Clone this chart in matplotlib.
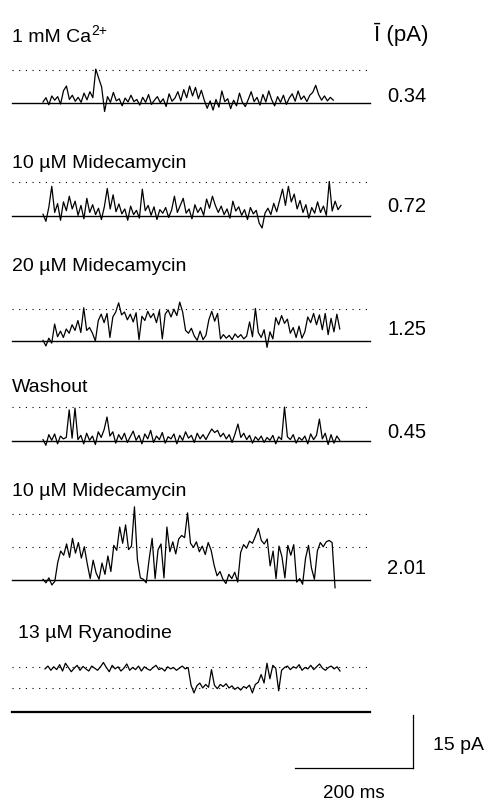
import numpy as np
import matplotlib
matplotlib.use('Agg')
import matplotlib.pyplot as plt

plt.rcParams['font.family'] = ['Liberation Sans', 'DejaVu Sans']

# condition labels and mean currents (pA)
labels = ['1 mM Ca', '10 µM Midecamycin', '20 µM Midecamycin',
          'Washout', '10 µM Midecamycin', '13 µM Ryanodine']
mean_current = [0.34, 0.72, 1.25, 0.45, 2.01]

# record durations (ms)
durations = [492, 505, 503, 503, 495, 500]

# open-channel levels (pA above closed level)
open_levels = [[9.3], [9.6], [9.0], [9.6], [9.3, 18.7], [6.8, 12.7]]

# current traces (pA)
trace_ca = [0.3, 1.5, -0.5, 2.0, 0.8, 1.8, -0.3, 3.5, 4.8, 1.0,
            2.2, 0.5, 1.6, 0.2, 2.8, 0.9, 3.2, 1.5, 9.6, 7.0,
            4.5, -2.4, 1.8, 0.2, 3.0, 0.6, 1.2, -0.8, 1.4, 0.3,
            2.2, 0.4, 1.0, -0.6, 1.6, 0.2, 2.4, -0.4, 0.8, 1.8,
            0.1, 1.2, -1.0, 2.6, 0.5, 1.4, 3.2, 0.6, 3.8, 1.5,
            4.8, 2.0, 4.4, 1.2, 3.6, 0.8, -1.5, 0.6, -2.0, 1.0,
            -1.2, 3.4, 0.4, 1.2, -1.6, 0.8, -0.8, 2.8, 0.2, -1.0,
            1.0, 3.2, 0.4, 1.6, -0.6, 2.4, 0.3, 3.4, 0.9, -0.8,
            1.8, 0.2, 2.2, -0.4, 1.4, 2.6, 0.5, 3.4, 1.0, 2.0,
            0.4, 2.2, 3.0, 5.0, 2.4, 0.8, 2.0, 0.6, 1.6, 0.8]

trace_mid10 = [0.5, -1.5, 2.5, 8.4, 1.0, 3.5, -1.2, 4.0, 1.5, 5.6,
               2.0, 4.2, 0.2, 3.0, -0.8, 5.0, 1.0, 3.2, 0.4, 2.2,
               -1.0, 2.6, 7.8, 2.0, 6.0, 1.2, 3.4, 0.6, 2.0, -1.2,
               2.8, 0.4, 1.6, -0.6, 7.6, 1.5, 3.0, 0.2, 2.6, -1.0,
               1.8, 0.8, 2.4, -0.4, 1.6, 5.6, 1.0, 3.0, 5.0, 0.8,
               2.0, -0.8, 3.2, 1.0, 2.4, 0.2, 4.8, 2.2, 5.6, 3.0,
               1.0, 2.8, 0.4, 2.0, -0.6, 4.2, 1.4, 2.6, 0.2, 1.8,
               -1.0, 2.4, 0.6, 1.6, -2.0, -3.4, 0.8, 2.2, 0.4, 3.6,
               1.2, 4.4, 7.6, 3.0, 8.4, 4.0, 6.2, 2.0, 4.4, 1.0,
               3.2, -0.6, 2.4, 0.8, 4.0, 1.0, 2.8, 0.2, 9.8, 1.4,
               4.2, 1.8, 3.0]

trace_mid20 = [0.2, -1.4, 0.8, -0.6, 4.8, 1.2, 2.8, 1.0, 3.4, 2.2,
               4.6, 3.0, 5.8, 2.4, 9.4, 3.0, 3.8, 2.2, 0.0, 5.8,
               7.6, 5.2, 7.8, 1.0, 6.8, 8.2, 10.8, 7.4, 8.2, 6.0,
               7.6, 5.4, 8.0, 0.4, 7.0, 5.8, 8.4, 6.6, 7.8, 5.2,
               8.6, 0.6, 7.6, 8.8, 6.8, 9.0, 7.2, 11.0, 8.2, 3.0,
               2.2, 3.6, 1.4, 0.2, 2.8, 0.4, 1.6, 6.0, 8.4, 5.6,
               7.8, 0.6, 1.8, 0.8, 1.6, 0.4, 2.0, 1.0, 1.8, 0.6,
               1.4, 5.4, 1.2, 9.2, 2.4, 1.0, 3.2, -1.8, 2.6, 0.6,
               6.6, 4.6, 7.2, 5.0, 6.2, 2.2, 3.8, 1.0, 4.2, 0.8,
               2.6, 6.8, 5.2, 7.8, 4.6, 7.4, 3.2, 7.8, 1.8, 6.4,
               2.6, 7.6, 3.4]

trace_wash = [0.4, -1.2, 1.8, 0.2, 2.0, -0.8, 1.4, 0.6, 1.0, 8.8,
              0.8, 9.3, 0.4, 1.6, -0.8, 2.2, 0.2, 1.4, -1.0, 2.6,
              1.0, 3.2, 6.8, 1.4, 2.6, -0.6, 1.8, 0.4, 2.2, -0.4,
              1.2, 2.8, 0.2, 1.6, -0.8, 2.0, 0.6, 3.0, -0.4, 1.4,
              0.4, 2.4, -0.6, 1.2, 0.6, 2.0, -0.8, 1.6, 0.2, 2.6,
              0.8, 1.6, -0.4, 2.2, 0.6, 1.8, 0.4, 2.0, 3.4, 2.4,
              3.0, 1.2, 2.2, 0.6, 1.8, -0.4, 2.0, 4.8, 1.0, 2.2,
              0.4, 1.6, -0.6, 1.2, 0.2, 1.4, -0.4, 1.0, 0.2, 1.6,
              -0.8, 1.2, 0.4, 9.6, 1.2, 0.4, 1.8, -0.6, 1.0, 0.2,
              1.4, -0.8, 2.0, 0.4, 1.6, 6.2, 0.6, 2.2, -1.0, 1.8,
              -0.6, 1.4, 0.2]

trace_mid10b = [0.2, -0.8, 0.6, -1.4, -0.4, 5.0, 8.2, 7.0, 10.2, 6.4,
                11.8, 7.6, 10.6, 6.2, 9.4, 4.6, 0.4, 5.6, 2.0, 0.2,
                4.8, 1.6, 6.8, 2.4, 9.8, 8.4, 15.0, 10.4, 15.6, 8.6,
                9.6, 20.7, 5.8, 0.6, 0.2, -0.8, 6.0, 11.8, 0.4, 8.6,
                10.2, 0.6, 15.0, 8.0, 10.8, 7.4, 11.6, 12.6, 12.0, 19.0,
                10.4, 9.2, 10.8, 8.0, 9.6, 7.2, 10.6, 8.4, 4.2, 1.2,
                2.4, 0.2, -1.0, 1.6, 0.4, 2.2, -0.6, 7.8, 10.0, 9.0,
                11.0, 10.4, 12.4, 14.6, 11.2, 10.2, 11.6, 4.0, 8.2, 0.4,
                9.6, 6.6, 0.6, 9.8, 7.0, 10.0, -0.6, 0.4, -1.2, 6.2,
                9.8, 3.4, 0.2, 8.2, 10.6, 9.4, 10.8, 11.2, 10.6, -2.2]

trace_ryan = [12.2, 13.0, 11.8, 12.8, 12.0, 13.4, 11.6, 13.8, 12.6, 11.4,
              12.4, 13.2, 11.8, 12.9, 12.2, 11.6, 13.0, 12.4, 11.8, 12.8,
              14.0, 12.6, 11.4, 13.2, 12.2, 12.8, 11.6, 12.4, 13.6, 11.8,
              12.6, 12.0, 13.0, 11.6, 12.8, 12.2, 11.8, 12.6, 13.2, 12.0,
              12.4, 11.6, 12.8, 12.2, 12.6, 11.8, 12.4, 13.0, 12.2, 12.6,
              7.6, 5.4, 7.4, 8.2, 6.8, 7.8, 7.0, 12.0, 7.6, 6.6,
              7.8, 7.2, 8.0, 6.8, 7.4, 6.4, 7.0, 6.2, 7.2, 6.8,
              7.6, 5.4, 7.8, 8.4, 10.6, 8.2, 13.8, 9.4, 13.2, 12.4,
              6.0, 11.8, 12.6, 13.0, 12.0, 12.8, 12.4, 13.4, 11.8, 12.6,
              12.2, 13.2, 12.0, 12.8, 13.6, 12.4, 11.8, 12.6, 13.0, 12.2,
              12.8, 11.6]

traces = [trace_ca, trace_mid10, trace_mid20, trace_wash, trace_mid10b, trace_ryan]

# layout (pixel positions in the 487x800 figure)
MS_PER_PX = 200 / 118
PA_PER_PX = 15 / 53
base_px = [103, 216, 341, 441, 580, 712]
start_px = [43, 43, 43, 43, 43, 45]
label_px = [37, 164, 267, 388, 492, 634]
value_px = [97, 207, 330, 432, 569]


def xpos(px):
    return (px - 43) * MS_PER_PX


def ypos(py):
    return (800 - py) * PA_PER_PX


fig = plt.figure(figsize=(4.87, 8.0), dpi=100)
ax = fig.add_axes([0, 0, 1, 1])
ax.set_xlim(xpos(0), xpos(487))
ax.set_ylim(ypos(800), ypos(0))
ax.axis('off')

x0, x1 = xpos(12), xpos(370)
for k, tr in enumerate(traces):
    base = ypos(base_px[k])
    t = xpos(start_px[k]) + np.linspace(0, durations[k], len(tr))
    ax.plot(t, base + np.array(tr), color='black', lw=0.9, zorder=3)
    ax.plot([x0, x1], [base, base], color='black',
            lw=1.6 if k == 5 else 1.0, zorder=2)
    for lev in open_levels[k]:
        ax.plot([x0, x1], [base + lev, base + lev], color='black',
                lw=0.8, linestyle=(0, (1, 5)), zorder=1)
    txt = ax.text(xpos(18 if k == 5 else 12), ypos(label_px[k]), labels[k],
                  fontsize=14, va='center', ha='left')
    if k == 0:
        ax.annotate('2+', xy=(1.0, 0.42), xycoords=txt, fontsize=10,
                    va='bottom', ha='left')

for k, v in enumerate(mean_current):
    ax.text(xpos(387), ypos(value_px[k]), f'{v:.2f}', fontsize=14.5,
            va='center', ha='left')

ax.text(xpos(374), ypos(34), 'Ī (pA)', fontsize=16, va='center', ha='left')

# scale bars
sx, sy = xpos(413), ypos(768)
ax.plot([sx - 200, sx], [sy, sy], color='black', lw=0.9)
ax.plot([sx, sx], [sy, sy + 15], color='black', lw=0.9)
ax.text(xpos(433), ypos(746), '15 pA', fontsize=14, va='center', ha='left')
ax.text(sx - 100, ypos(793), '200 ms', fontsize=13.5, va='center', ha='center')

fig.savefig('out.png', dpi=100)
plt.close(fig)
